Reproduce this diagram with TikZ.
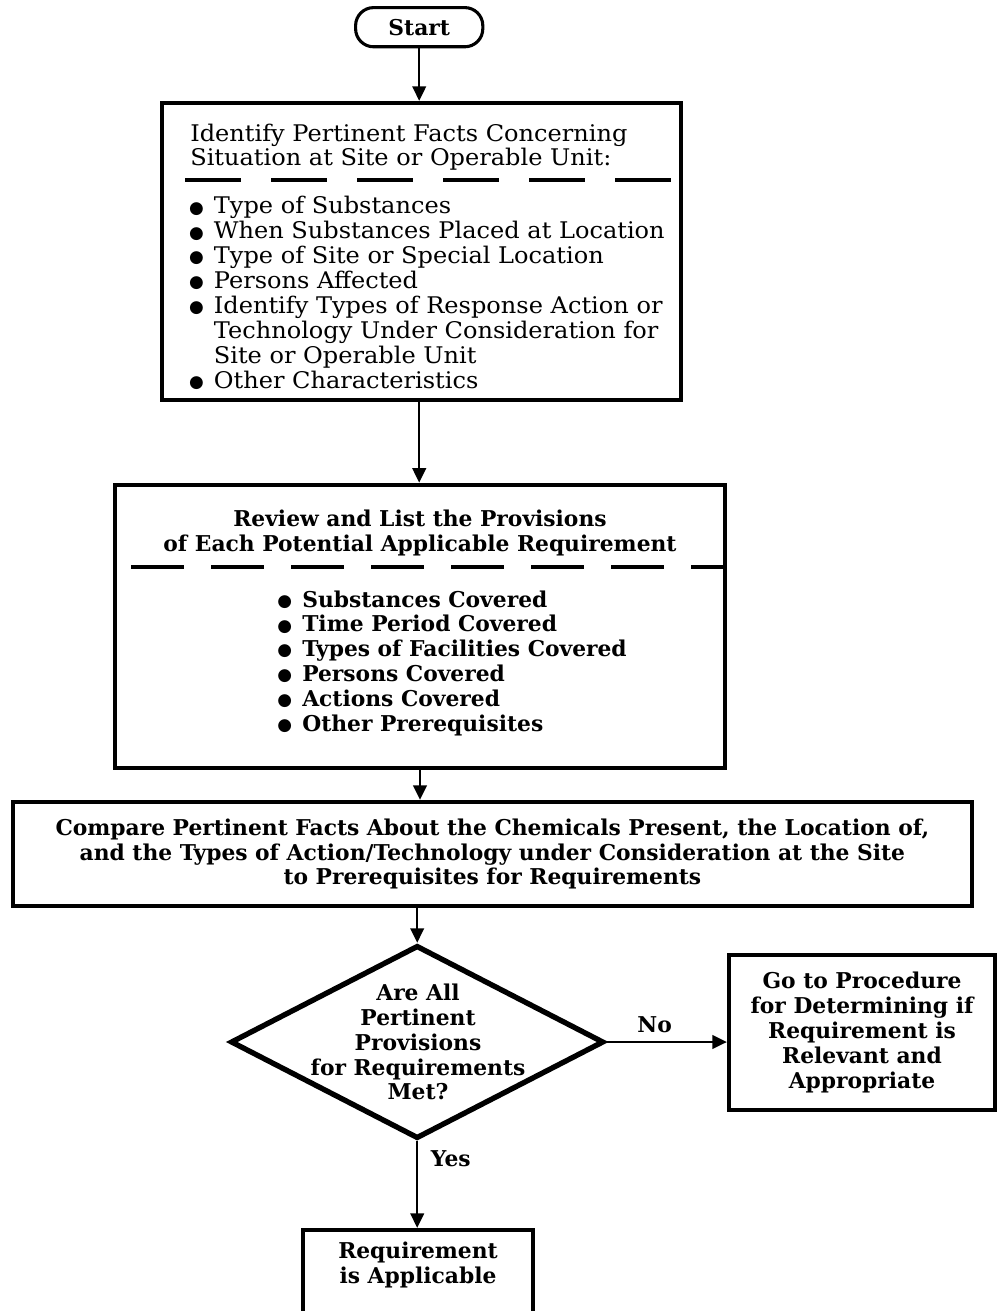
\documentclass[tikz,border=0pt]{standalone}
\usepackage{fontspec}
\setmainfont{DejaVu Serif}
\newfontfamily\factsfont{DejaVu Serif}[FakeStretch=1.05]
\newfontfamily\symfont{DejaVu Sans}
\usetikzlibrary{shapes.geometric,arrows.meta}

\newcommand{\txt}{\fontsize{15.5}{17.7}\selectfont}
\newcommand{\blt}{\makebox[0.62cm][l]{\raisebox{0.6pt}{\fontsize{12}{12}\selectfont\symfont ●}}}
\newcommand{\gap}{\hspace*{0.62cm}}

\tikzset{
  box/.style={draw, line width=3.1pt, inner sep=0pt},
  startbox/.style={draw, line width=2.2pt, rounded corners=0.45cm, minimum width=3.18cm, minimum height=0.98cm},
  check/.style={draw, diamond, line width=3.8pt, inner sep=0pt},
  heavy/.style={font=\txt\bfseries},
  plain/.style={font=\factsfont\fontsize{16.3}{17.7}\selectfont},
  sepline/.style={line width=2.2pt, dash pattern=on 1.4cm off 0.75cm},
  flow/.style={->, line width=1.4pt},
  >={Triangle[length=0.36cm,width=0.34cm]}
}

\begin{document}
\begin{tikzpicture}[font=\txt]
  \useasboundingbox (0,0) rectangle (24.95,-32.775);
  \clip (0,0) rectangle (24.95,-32.775);

  % start
  \node[startbox, heavy] (start) at (10.48,-0.68) {Start};

  % facts at the site
  \node[box, minimum width=12.98cm, minimum height=7.43cm] (facts) at (10.54,-6.29) {};
  \node[plain, anchor=west, align=left, inner sep=0pt] (factshead) at (4.75,-3.68)
    {Identify Pertinent Facts Concerning\\ Situation at Site or Operable Unit:};
  \coordinate (factsep) at (4.625,-4.5);
  \draw[sepline] (factsep) -- (factsep -| facts.east);
  \node[plain, anchor=west, align=left, inner sep=0pt] (factslist) at (4.72,-7.325)
    {\blt Type of Substances\\
     \blt When Substances Placed at Location\\
     \blt Type of Site or Special Location\\
     \blt Persons Affected\\
     \blt Identify Types of Response Action or\\
     \gap Technology Under Consideration for\\
     \gap Site or Operable Unit\\
     \blt Other Characteristics};

  % provisions
  \node[box, minimum width=15.25cm, minimum height=7.08cm] (provisions) at (10.5,-15.66) {};
  \node[heavy, align=center, inner sep=0pt] (provhead) at (10.5,-13.33)
    {Review and List the Provisions\\ of Each Potential Applicable Requirement};
  \coordinate (provsep) at (3.275,-14.175);
  \draw[sepline, dash pattern=on 1.32cm off 0.68cm] (provsep) -- (provsep -| provisions.east);
  \node[heavy, anchor=west, align=left, inner sep=0pt] (provlist) at (6.93,-16.58)
    {\blt Substances Covered\\
     \blt Time Period Covered\\
     \blt Types of Facilities Covered\\
     \blt Persons Covered\\
     \blt Actions Covered\\
     \blt Other Prerequisites};

  % compare
  \node[box, heavy, minimum width=23.98cm, minimum height=2.6cm, align=center] (compare) at (12.31,-21.35)
    {Compare Pertinent Facts About the Chemicals Present, the Location of,\\
     and the Types of Action/Technology under Consideration at the Site\\
     to Prerequisites for Requirements};

  % decision
  \node[check, minimum width=9.33cm, minimum height=4.83cm] (check) at (10.43,-26.05) {};
  \node[heavy, align=center, inner sep=0pt] (checktext) at (10.45,-26.05)
    {Are All\\ Pertinent\\ Provisions\\ for Requirements\\ Met?};

  \node[box, heavy, minimum width=6.65cm, minimum height=3.88cm, align=center] (relevant) at (21.55,-25.81)
    {Go to Procedure\\ for Determining if\\ Requirement is\\ Relevant and\\ Appropriate};

  \node[box, minimum width=5.75cm, minimum height=2.5cm] (applicable) at (10.45,-32.0) {};
  \node[heavy, align=center, inner sep=0pt] (applicabletext) at (10.45,-31.62)
    {Requirement\\ is Applicable};

  % arrows
  \draw[flow] (start.south) -- (start.south |- facts.north);
  \draw[flow] (facts.south -| start.south) -- (start.south |- provisions.north);
  \draw[flow] (provisions.south) -- (provisions.south |- compare.north);
  \draw[flow] (compare.south -| check.north) -- (check.north);
  \draw[flow] (check.east) -- (check.east -| relevant.west)
    node[heavy, pos=0.4, above=0.1cm] (no) {No};
  \draw[flow] (check.south) -- (check.south |- applicable.north)
    node[heavy, pos=0.2, right=0.2cm] (yes) {Yes};
\end{tikzpicture}
\end{document}
